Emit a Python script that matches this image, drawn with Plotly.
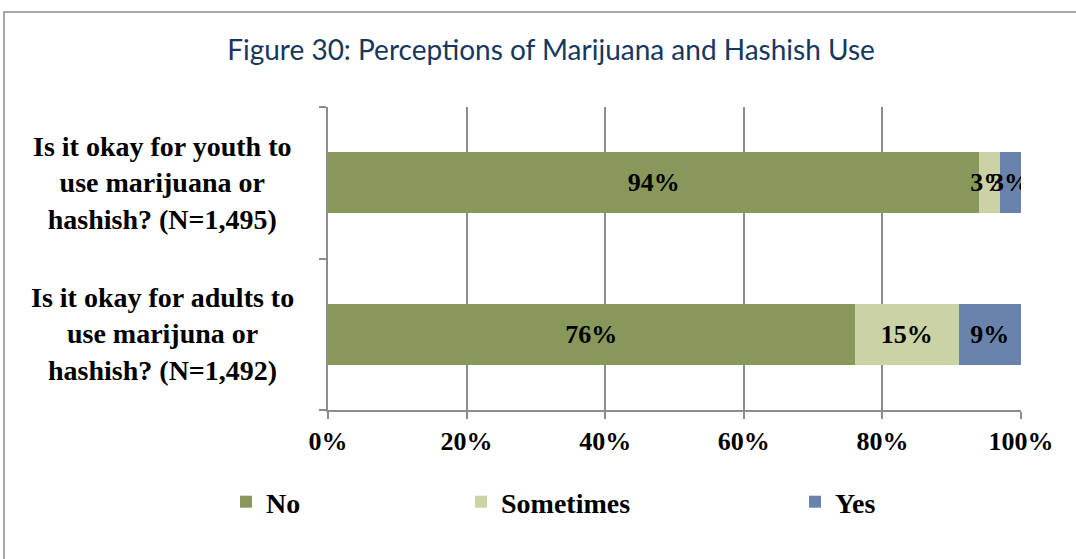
import plotly.graph_objects as go

categories = ["Is it okay for youth to<br>use marijuana or<br>hashish? (N=1,495)",
              "Is it okay for adults to<br>use marijuna or<br>hashish? (N=1,492)"]
series_names = ["No", "Sometimes", "Yes"]
no_vals = [94, 76]
sometimes_vals = [3, 15]
yes_vals = [3, 9]
colors = ["#88975A", "#CBD2A6", "#6983AD"]
tick_vals = [0, 20, 40, 60, 80, 100]
tick_text = ["0%", "20%", "40%", "60%", "80%", "100%"]

serif = "Liberation Serif"
fig = go.Figure()
legend_ids = ["legend", "legend2", "legend3"]
for name, vals, col, lg in zip(series_names, [no_vals, sometimes_vals, yes_vals], colors, legend_ids):
    fig.add_trace(go.Bar(
        y=categories, x=vals, name=name, orientation="h",
        marker=dict(color=col, line=dict(width=0)),
        text=[f"{v}%" for v in vals], textposition="inside", textangle=0,
        insidetextanchor="middle", constraintext="none",
        textfont=dict(family=serif, size=26, color="black", weight="bold"),
        legend=lg, width=0.4,
    ))

W, H = 1076, 559
L, R, T, B = 328, 55, 107, 149
pw, ph = W - L - R, H - T - B
def px(x): return (x - L) / pw
def py(y): return 1 - (y - T) / ph

annotations = [dict(text=c, x=px(162), xref="paper", y=c, yref="y",
                    xanchor="center", yanchor="middle", align="center", showarrow=False,
                    font=dict(family=serif, size=28, color="black", weight="bold"))
               for c in categories]

legend_font = dict(family=serif, size=28, color="black", weight="bold")
fig.update_layout(
    width=W, height=H, barmode="stack",
    margin=dict(l=L, r=R, t=T, b=B, autoexpand=False),
    paper_bgcolor="white", plot_bgcolor="white",
    title=dict(text="Figure 30: Perceptions of Marijuana and Hashish Use",
               font=dict(family="Lato", size=28, color="#17375E"),
               x=px(551), xref="paper", y=1 - 50 / H, yanchor="middle", xanchor="center"),
    xaxis=dict(range=[0, 100], tickvals=tick_vals, ticktext=tick_text,
               showgrid=True, gridcolor="#8C8C8C", gridwidth=1.5,
               showline=True, linecolor="#8C8C8C", linewidth=1.5,
               ticks="outside", ticklen=7, tickcolor="#8C8C8C", tickwidth=1.5,
               tickfont=dict(family=serif, size=26, color="black", weight="bold"),
               zeroline=False, fixedrange=True),
    yaxis=dict(categoryorder="array", categoryarray=categories[::-1],
               showline=True, linecolor="#8C8C8C", linewidth=1.5,
               ticks="outside", ticklen=7, tickcolor="#8C8C8C", tickwidth=1.5,
               tickson="boundaries", showticklabels=False,
               showgrid=False, fixedrange=True),
    annotations=annotations,
    shapes=[dict(type="rect", xref="paper", yref="paper",
                 x0=px(4), x1=px(1090), y0=py(580), y1=py(12),
                 line=dict(color="#8C8C8C", width=1.5), fillcolor="rgba(0,0,0,0)", layer="below")],
    legend=dict(orientation="h", x=px(226), y=py(502), yanchor="middle", xanchor="left",
                font=legend_font, bgcolor="rgba(0,0,0,0)"),
    legend2=dict(orientation="h", x=px(461), y=py(502), yanchor="middle", xanchor="left",
                 font=legend_font, bgcolor="rgba(0,0,0,0)"),
    legend3=dict(orientation="h", x=px(795), y=py(502), yanchor="middle", xanchor="left",
                 font=legend_font, bgcolor="rgba(0,0,0,0)"),
    showlegend=True,
)
fig.write_html("out.html", config={"displayModeBar": False},
               post_script="document.body.style.margin='0';")
